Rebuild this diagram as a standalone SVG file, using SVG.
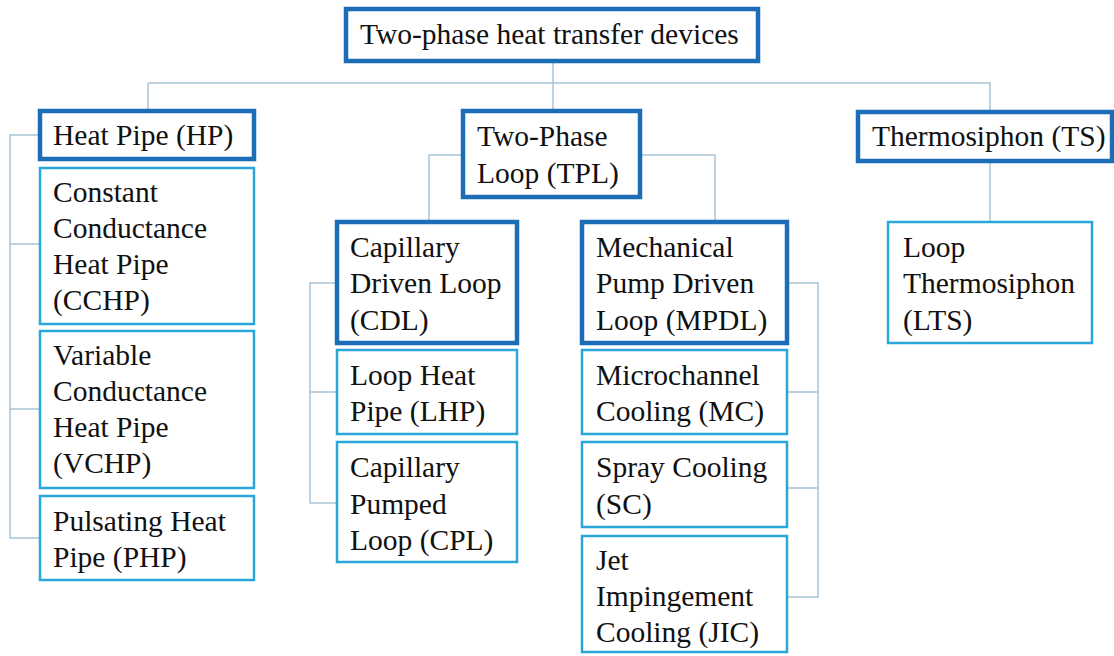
<svg xmlns="http://www.w3.org/2000/svg" width="1114" height="656" viewBox="0 0 1114 656">
<style>
.t{font-family:'Liberation Serif','Times New Roman','DejaVu Serif',serif;font-size:29.5px;fill:#111}
.main{fill:#fff;stroke:#1b6eb6;stroke-width:4.5}
.sub{fill:#fff;stroke:#2aa7da;stroke-width:2.5}
.c{fill:none;stroke:#a9c3d6;stroke-width:1.5}
</style>
<rect width="1114" height="656" fill="#fff"/>
<g id="connectors">
<path class="c" d="M553 62V111M148 83H990V111M148 83V111"/>
<path class="c" d="M40 135H10V538H40M10 244H40M10 409H40"/>
<path class="c" d="M463 155H429V222M640 155H715V222"/>
<path class="c" d="M337 283H310V503H337M310 392H337"/>
<path class="c" d="M787 283H818V597H787M818 392H787M818 488H787"/>
<path class="c" d="M990 161V222"/>
</g>
<g id="root"><rect class="main" x="346" y="9" width="412" height="52"/><text class="t" x="360" y="44">Two-phase heat transfer devices</text></g>
<g id="hp"><rect class="main" x="40" y="111" width="214" height="48"/><text class="t" x="53" y="145">Heat Pipe (HP)</text></g>
<g id="cchp"><rect class="sub" x="40" y="168" width="214" height="156"/><text class="t" x="53" y="202">Constant</text><text class="t" x="53" y="238">Conductance</text><text class="t" x="53" y="274">Heat Pipe</text><text class="t" x="53" y="310">(CCHP)</text></g>
<g id="vchp"><rect class="sub" x="40" y="331" width="214" height="157"/><text class="t" x="53" y="365">Variable</text><text class="t" x="53" y="401">Conductance</text><text class="t" x="53" y="437">Heat Pipe</text><text class="t" x="53" y="473">(VCHP)</text></g>
<g id="php"><rect class="sub" x="40" y="496" width="214" height="84"/><text class="t" x="53" y="531">Pulsating Heat</text><text class="t" x="53" y="567">Pipe (PHP)</text></g>
<g id="tpl"><rect class="main" x="463" y="111" width="177" height="86"/><text class="t" x="477" y="146">Two-Phase</text><text class="t" x="477" y="183">Loop (TPL)</text></g>
<g id="cdl"><rect class="main" x="337" y="222" width="180" height="121"/><text class="t" x="350" y="257">Capillary</text><text class="t" x="350" y="293">Driven Loop</text><text class="t" x="350" y="330">(CDL)</text></g>
<g id="lhp"><rect class="sub" x="337" y="350" width="180" height="84"/><text class="t" x="350" y="385">Loop Heat</text><text class="t" x="350" y="421">Pipe (LHP)</text></g>
<g id="cpl"><rect class="sub" x="337" y="442" width="180" height="120"/><text class="t" x="350" y="477">Capillary</text><text class="t" x="350" y="514">Pumped</text><text class="t" x="350" y="550">Loop (CPL)</text></g>
<g id="mpdl"><rect class="main" x="582" y="222" width="205" height="121"/><text class="t" x="596" y="257">Mechanical</text><text class="t" x="596" y="293">Pump Driven</text><text class="t" x="596" y="330">Loop (MPDL)</text></g>
<g id="mc"><rect class="sub" x="582" y="350" width="205" height="84"/><text class="t" x="596" y="385">Microchannel</text><text class="t" x="596" y="421">Cooling (MC)</text></g>
<g id="sc"><rect class="sub" x="582" y="442" width="205" height="85"/><text class="t" x="596" y="477">Spray Cooling</text><text class="t" x="596" y="514">(SC)</text></g>
<g id="jic"><rect class="sub" x="582" y="536" width="205" height="116"/><text class="t" x="596" y="570">Jet</text><text class="t" x="596" y="606">Impingement</text><text class="t" x="596" y="642">Cooling (JIC)</text></g>
<g id="ts"><rect class="main" x="858" y="112" width="254" height="49"/><text class="t" x="872" y="146">Thermosiphon (TS)</text></g>
<g id="lts"><rect class="sub" x="888" y="222" width="204" height="121"/><text class="t" x="903" y="257">Loop</text><text class="t" x="903" y="293">Thermosiphon</text><text class="t" x="903" y="330">(LTS)</text></g>
</svg>
